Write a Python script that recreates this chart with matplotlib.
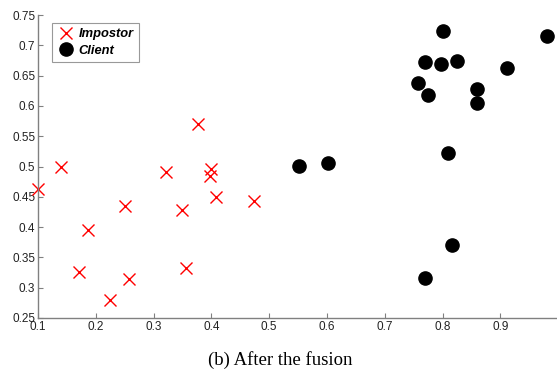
import matplotlib
matplotlib.use("Agg")
import matplotlib.pyplot as plt

impostor_x = [0.100, 0.140, 0.171, 0.186, 0.224, 0.250, 0.257, 0.321, 0.349, 0.356, 0.376, 0.397, 0.400, 0.408, 0.473]
impostor_y = [0.463, 0.499, 0.326, 0.395, 0.279, 0.435, 0.314, 0.491, 0.428, 0.332, 0.570, 0.484, 0.496, 0.450, 0.443]

client_x = [0.551, 0.601, 0.757, 0.770, 0.774, 0.800, 0.798, 0.825, 0.810, 0.859, 0.860, 0.912, 0.980, 0.816, 0.770]
client_y = [0.501, 0.506, 0.638, 0.672, 0.618, 0.724, 0.669, 0.674, 0.523, 0.628, 0.604, 0.663, 0.715, 0.371, 0.316]

xticks = [0.1, 0.2, 0.3, 0.4, 0.5, 0.6, 0.7, 0.8, 0.9]
yticks = [0.25, 0.3, 0.35, 0.4, 0.45, 0.5, 0.55, 0.6, 0.65, 0.7, 0.75]
caption = "(b) After the fusion"

plt.rcParams['font.family'] = ['Liberation Sans', 'DejaVu Sans']

fig = plt.figure(figsize=(5.57, 3.76), dpi=100)
ax = fig.add_axes([38/557, 58/376, 1 - 38/557 + 0.002, (318-15)/376])

ax.plot(impostor_x, impostor_y, 'x', color='#ff0000', markersize=8, markeredgewidth=1.0,
        linestyle='none', label='Impostor', clip_on=False)
ax.plot(client_x, client_y, 'o', color='black', markersize=9.5,
        linestyle='none', label='Client', clip_on=False)

ax.set_xlim(0.1, 1.0)
ax.set_ylim(0.25, 0.75)
ax.set_xticks(xticks)
ax.set_xticklabels([f"{v:g}" for v in xticks])
ax.set_yticks(yticks)
ax.set_yticklabels([f"{v:g}" for v in yticks])

for s in ['top', 'right']:
    ax.spines[s].set_visible(False)
for s in ['left', 'bottom']:
    ax.spines[s].set_color('#808080')
    ax.spines[s].set_linewidth(1.0)
ax.tick_params(direction='in', length=3.5, width=0.8, color='#808080',
               labelsize=8.5, labelcolor='#222222', pad=2)

leg = ax.legend(loc='upper left', bbox_to_anchor=(14/519, 1 - 8/303), borderaxespad=0,
                frameon=True, fancybox=False, borderpad=0.4, handletextpad=0.35,
                labelspacing=0.35, handlelength=1.3,
                prop={'style': 'italic', 'weight': 'bold', 'size': 9.3})
leg.get_frame().set_edgecolor('#808080')
leg.get_frame().set_linewidth(0.8)

fig.text(280/557, 1 - 360/376, caption, ha='center', va='center',
         family='Liberation Serif', fontsize=13.5)

fig.savefig('out.png', dpi=100)
